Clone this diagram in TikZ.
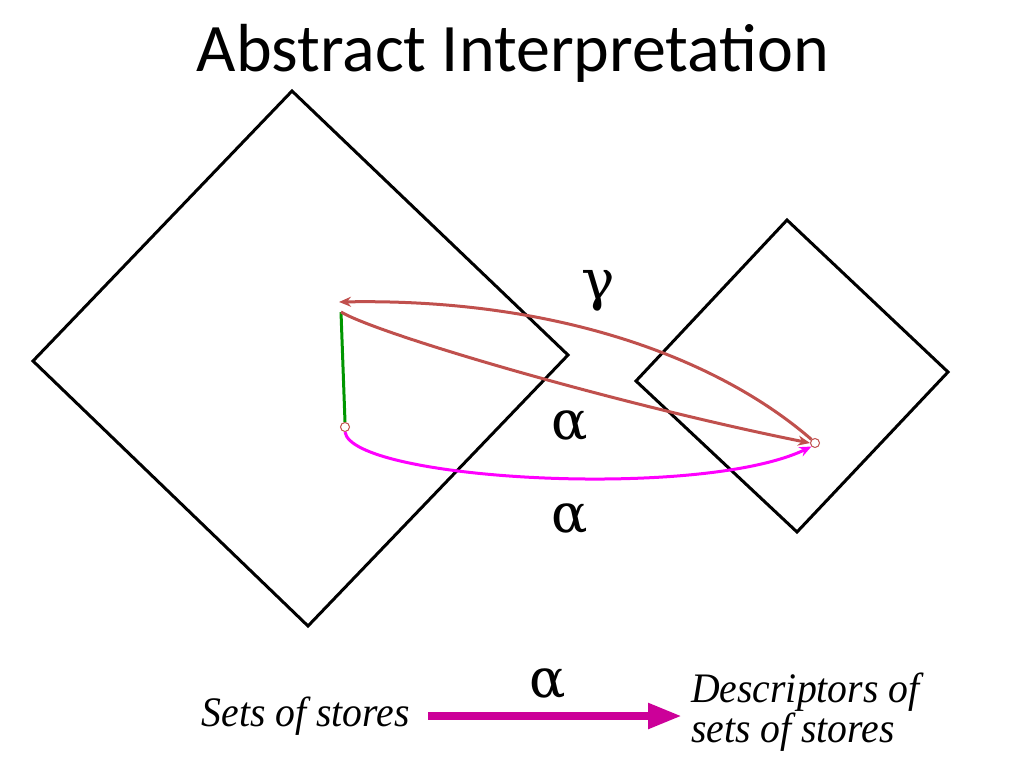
\documentclass[tikz,border=0pt]{standalone}
\usepackage{fontspec}
\setmainfont{Liberation Serif}
\newfontfamily\titlefont{Carlito}
\newfontfamily\greekfont{DejaVu Serif}
\usetikzlibrary{arrows.meta,calc}
\definecolor{redc}{RGB}{192,80,77}
\definecolor{magc}{RGB}{255,0,255}
\definecolor{greenc}{RGB}{0,150,0}
\definecolor{botmag}{RGB}{204,0,153}
\tikzset{
  box/.style={draw=black,line width=3pt,line join=miter},
  redarrow/.style={draw=redc,line width=3pt,-{Stealth[length=12pt,width=10pt]}},
  magarrow/.style={draw=magc,line width=3pt,-{Stealth[length=12pt,width=10pt]}},
  dot/.style={circle,draw=redc,fill=white,line width=1pt,minimum size=9pt,inner sep=0pt},
  greek/.style={font=\greekfont\fontsize{54}{54}\selectfont,inner sep=0pt},
  lbl/.style={font=\fontsize{42}{36}\selectfont\itshape,inner sep=0pt,align=left}
}
\begin{document}
\begin{tikzpicture}[x=1pt,y=-1pt]
\useasboundingbox (0,0) rectangle (1024,768);
\node[font=\titlefont\fontsize{68}{68}\selectfont,inner sep=0pt] (title) at (513,53) {Abstract Interpretation};
% diamonds
\draw[box] (292,91) coordinate (bt) -- (568,355) coordinate (br) -- (308,626) coordinate (bb) -- (33,361) coordinate (bl) -- cycle;
\draw[box] (787,220) coordinate (st) -- (948,372) coordinate (sr) -- (797,532) coordinate (sb) -- (636,381) coordinate (sl) -- cycle;
% points
\coordinate (gtop) at (341,312);
\node[dot] (p1) at (345,427) {};
\node[dot] (p2) at (815,443) {};
\coordinate (gend) at (339,302);
% green segment
\draw[draw=greenc,line width=3pt] (gtop) -- (p1.north);
% gamma
\draw[redarrow] (p2.north west) .. controls (720,360) and (560,298) .. (gend);
% alpha red
\draw[redarrow] (gtop) .. controls (380,335) and (620,405) .. (p2.west);
% alpha magenta
\draw[magarrow] (p1.south) .. controls (352,480) and (700,500) .. (p2.south west);
% labels
\node[greek,font=\greekfont\fontsize{56}{56}\selectfont] (gam) at (598,291) {γ};
\node[greek] (a1) at (570,426) {α};
\node[greek] (a2) at (570,519) {α};
\node[greek] (a3) at (548,684) {α};
% bottom
\node[lbl,anchor=east] (src) at (410,716) {\scalebox{0.945}[1]{Sets of stores}};
\node[lbl,anchor=west] (dst) at (691,712) {\scalebox{0.945}[1]{Descriptors of}\\\scalebox{0.945}[1]{sets of stores}};
\coordinate (bs) at (428,716);
\coordinate (be) at (682,716);
\draw[draw=botmag,line width=8pt,-{Triangle[length=34pt,width=24pt]}] (bs) -- (be);
\end{tikzpicture}
\end{document}
